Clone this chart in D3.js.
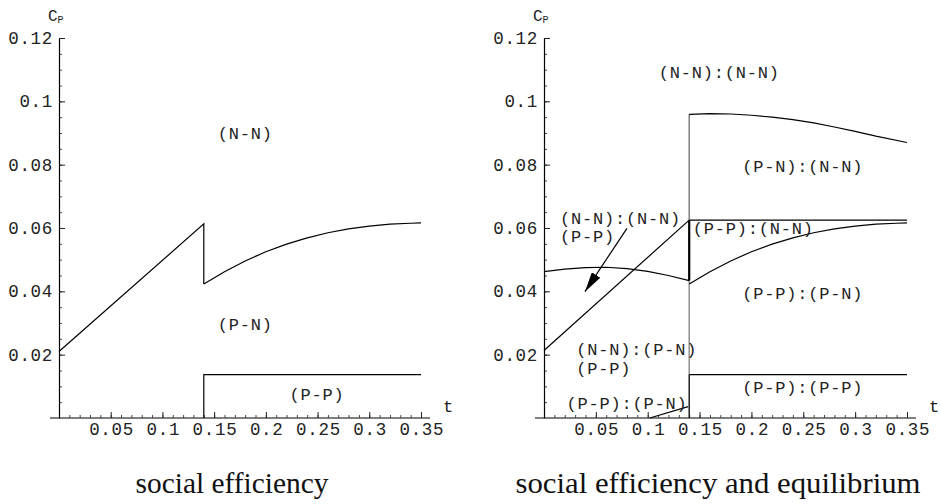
<!DOCTYPE html>
<html lang="en">
<head>
<meta charset="utf-8">
<title>social efficiency</title>
<script src="https://d3js.org/d3.v7.min.js"></script>
<style>
body { margin: 0; background: #fff; }
svg text { font-family: "Liberation Mono", "DejaVu Sans Mono", monospace; fill: #222; }
.cap { font-family: "Liberation Serif", "DejaVu Serif", serif; fill: #111; }
</style>
</head>
<body>
<script>
// tick values and labels (same on both panels)
const xTicks = [0.05, 0.1, 0.15, 0.2, 0.25, 0.3, 0.35];
const xTickLabels = ["0.05", "0.1", "0.15", "0.2", "0.25", "0.3", "0.35"];
const yTicks = [0.02, 0.04, 0.06, 0.08, 0.1, 0.12];
const yTickLabels = ["0.02", "0.04", "0.06", "0.08", "0.1", "0.12"];

// social efficiency boundaries
const nnRise = [[0, 0.021], [0.14, 0.0613], [0.14, 0.0423]];
const recoveryT = [0.14, 0.16, 0.18, 0.2, 0.22, 0.24, 0.26, 0.28, 0.3, 0.32, 0.34, 0.35];
const recoveryC = [0.0423, 0.0462, 0.0496, 0.0525, 0.0549, 0.0569, 0.0585, 0.0597, 0.0606, 0.0612, 0.0615, 0.0616];
const ppStep = [[0.14, 0], [0.14, 0.0137], [0.35, 0.0137]];

// equilibrium boundaries
const eqDiag = [[0, 0.0213], [0.14, 0.0625]];
const eqArcT = [0, 0.02, 0.04, 0.06, 0.08, 0.1, 0.12, 0.14];
const eqArcC = [0.0462, 0.047, 0.0475, 0.0476, 0.0472, 0.0463, 0.045, 0.0434];
const eqTopT = [0.14, 0.16, 0.18, 0.2, 0.22, 0.24, 0.26, 0.28, 0.3, 0.32, 0.35];
const eqTopC = [0.0959, 0.0961, 0.096, 0.0956, 0.095, 0.0942, 0.0932, 0.0919, 0.0905, 0.089, 0.087];
const eqFlat = [[0.14, 0.0625], [0.35, 0.0625]];
const eqSmall = [[0.102, 0], [0.139, 0.0036]];
const eqArrow = [[0.08, 0.0599], [0.0395, 0.0399]];

const svg = d3.select("body").append("svg")
    .attr("width", 940).attr("height", 504);

svg.append("defs").append("marker")
    .attr("id", "head")
    .attr("viewBox", "0 0 20 10")
    .attr("refX", 20).attr("refY", 5)
    .attr("markerWidth", 20).attr("markerHeight", 10)
    .attr("markerUnits", "userSpaceOnUse")
    .attr("orient", "auto")
  .append("path").attr("d", "M0,0L20,5L0,10Z").attr("fill", "#000");

function panel(x0, x1, caption, capX, capW) {
    const x = d3.scaleLinear().domain([0, 0.35]).range([x0, x1]);
    const y = d3.scaleLinear().domain([0, 0.12]).range([418, 38]);
    const g = svg.append("g");

    // x axis line runs a bit past both ends
    g.append("line")
        .attr("x1", x0 - 9).attr("x2", x1 + 9)
        .attr("y1", y(0)).attr("y2", y(0))
        .attr("stroke", "#000").attr("stroke-width", 1.2);

    g.append("g").attr("transform", `translate(0,${y(0)})`)
        .call(d3.axisBottom(x).tickValues(d3.range(1, 36).map(d => d / 100))
            .tickSize(-3).tickFormat(""))
        .call(a => a.select(".domain").remove())
        .selectAll("line").attr("stroke", "#444");
    g.append("g").attr("transform", `translate(0,${y(0)})`)
        .call(d3.axisBottom(x).tickValues(xTicks).tickSizeInner(-6).tickSizeOuter(0)
            .tickPadding(5).tickFormat((d, i) => xTickLabels[i]))
        .call(a => a.select(".domain").remove())
        .call(a => a.selectAll("text").attr("font-size", 17.5)
            .attr("letter-spacing", 0.7).attr("dx", 0.35)
            .attr("font-family", "Liberation Mono").attr("fill", "#222"))
        .selectAll("line").attr("stroke", "#222");

    g.append("g").attr("transform", `translate(${x0},0)`)
        .call(d3.axisLeft(y).tickValues(d3.range(1, 25).map(d => d * 0.005))
            .tickSize(-3).tickFormat(""))
        .call(a => a.select(".domain").remove())
        .selectAll("line").attr("stroke", "#444");
    g.append("g").attr("transform", `translate(${x0},0)`)
        .call(d3.axisLeft(y).tickValues(yTicks).tickSizeInner(-6).tickSizeOuter(0)
            .tickPadding(6).tickFormat((d, i) => yTickLabels[i]))
        .call(a => a.select(".domain").attr("stroke-width", 1.2))
        .call(a => a.selectAll("text").attr("font-size", 17.5)
            .attr("letter-spacing", 0.7)
            .attr("font-family", "Liberation Mono").attr("fill", "#222"))
        .selectAll("line").attr("stroke", "#222");

    // axis names
    const cp = g.append("text").attr("x", x0 - 11).attr("y", 21).attr("font-size", 16);
    cp.append("tspan").text("C");
    cp.append("tspan").attr("font-size", 10).attr("dy", 2).text("P");
    g.append("text").attr("x", x1 + 22).attr("y", 412).attr("font-size", 17).text("t");

    svg.append("text").attr("class", "cap")
        .attr("x", capX).attr("y", 493)
        .attr("text-anchor", "middle").attr("font-size", 29)
        .attr("textLength", capW).attr("lengthAdjust", "spacingAndGlyphs")
        .text(caption);

    const line = d3.line().x(d => x(d[0])).y(d => y(d[1]));
    const draw = (pts, col, w) => g.append("path").attr("d", line(pts))
        .attr("fill", "none").attr("stroke", col || "#000").attr("stroke-width", w || 1.2);
    const label = (t, tx, ty, anchor) => g.append("text")
        .attr("x", x(tx)).attr("y", y(ty)).attr("dy", "0.35em")
        .attr("text-anchor", anchor || "middle")
        .attr("font-size", 17).attr("letter-spacing", 0.8).text(t);
    return { x, y, line, draw, label };
}

const recovery = recoveryT.map((t, i) => [t, recoveryC[i]]);

// left: social efficiency
const L = panel(59, 421, "social efficiency", 232, 193);
L.draw(nnRise);
L.draw(recovery);
L.draw(ppStep);
L.label("(N-N)", 0.18, 0.09);
L.label("(P-N)", 0.18, 0.0297);
L.label("(P-P)", 0.2494, 0.0076);

// right: social efficiency and equilibrium
const R = panel(544, 907, "social efficiency and equilibrium", 718, 405);
R.draw([[0.14, 0], [0.14, 0.0137]], "#111", 1.4);
R.draw([[0.14, 0.0137], [0.14, 0.0434]], "#888", 1.4);
R.draw([[0.14, 0.0434], [0.14, 0.0625]], "#000", 2.2);
R.draw([[0.14, 0.0625], [0.14, 0.0959]], "#777", 1.4);
R.draw(eqDiag);
R.draw(eqArcT.map((t, i) => [t, eqArcC[i]]));
R.draw(eqTopT.map((t, i) => [t, eqTopC[i]]));
R.draw(eqFlat);
R.draw(recovery);
R.draw(ppStep.slice(1));
R.draw(eqSmall);
R.draw(eqArrow).attr("marker-end", "url(#head)");

R.label("(N-N):(N-N)", 0.169, 0.1092);
R.label("(P-N):(N-N)", 0.2495, 0.0795);
R.label("(N-N):(N-N)", 0.0155, 0.0633, "start");
R.label("(P-P)", 0.0155, 0.0575, "start");
R.label("(P-P):(N-N)", 0.1435, 0.0599, "start");
R.label("(P-P):(P-N)", 0.2495, 0.0395);
R.label("(N-N):(P-N)", 0.031, 0.0218, "start");
R.label("(P-P)", 0.031, 0.0158, "start");
R.label("(P-P):(P-P)", 0.2495, 0.0099);
R.label("(P-P):(P-N)", 0.0217, 0.0048, "start");
</script>
</body>
</html>
